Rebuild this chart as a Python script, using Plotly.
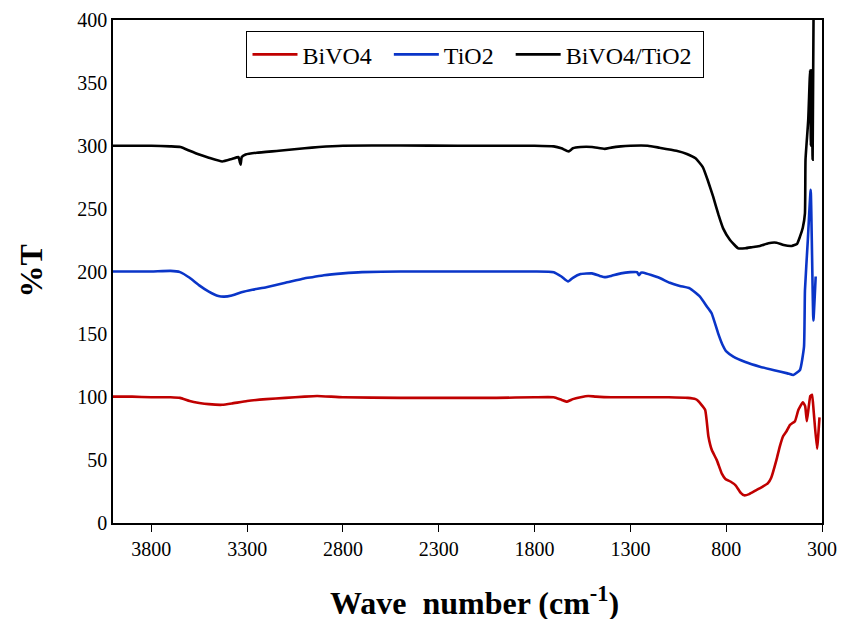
import plotly.graph_objects as go

# ---- Data ----
bivo4_wn = [4000, 3900, 3800, 3700, 3650, 3600, 3550, 3500, 3430, 3380, 3300, 3200, 3100, 3000, 2935,
            2800, 2500, 2200, 2000, 1800, 1700, 1660, 1630, 1600, 1560, 1520, 1480, 1400, 1300, 1200,
            1100, 1000, 960, 946, 910, 893, 875, 849, 822, 804, 778, 751, 724, 706, 680, 645, 609,
            583, 565, 538, 520, 503, 485, 467, 441, 423, 400, 388, 379, 361, 352, 343, 326, 313]
bivo4_val = [100.5, 100.5, 100, 100, 99.5, 97, 95.5, 94.5, 94, 95, 97, 98.5, 99.5, 100.5, 101,
             100, 99.5, 99.5, 99.5, 100, 100, 98, 96.5, 98.5, 100, 101, 100.5, 100, 100, 100,
             100, 99.5, 98.5, 97, 90, 69, 58, 50, 39, 35, 33, 30, 24, 22, 23, 26, 29,
             31.5, 36, 50, 61, 69, 73, 78, 81, 90, 96, 93, 81, 101, 102, 88, 59, 84]

tio2_wn = [4000, 3900, 3800, 3700, 3650, 3600, 3550, 3500, 3450, 3420, 3380, 3330, 3273, 3200, 3100,
           3003, 2960, 2900, 2800, 2700, 2500, 2200, 2000, 1800, 1700, 1660, 1625, 1600, 1560, 1500,
           1460, 1430, 1400, 1350, 1300, 1265, 1255, 1245, 1230, 1150, 1094, 1042, 990, 937, 900,
           876, 842, 820, 798, 763, 700, 624, 550, 480, 450, 415, 394, 389, 374, 359, 345, 333]
tio2_val = [200, 200, 200, 200.5, 199.5, 195, 189, 184, 180.5, 180, 181, 183.5, 185.5, 187.5, 191,
            194.5, 195.5, 197, 198.5, 199.5, 200, 200, 200, 200, 199.5, 196, 192, 195, 198, 198.5,
            196.5, 195.5, 196.5, 198.5, 199.5, 199.5, 197, 199, 199, 195, 191, 188.5, 186.6, 180, 172,
            166.8, 150.8, 142, 136.2, 132.3, 128, 124.3, 121.5, 119, 117.7, 121.7, 140, 185, 225, 265, 161, 196]

comp_wn = [4000, 3900, 3800, 3700, 3648, 3600, 3550, 3500, 3430, 3380, 3345, 3338, 3334, 3328, 3308,
           3250, 3134, 3000, 2925, 2800, 2500, 2200, 2000, 1800, 1700, 1660, 1622, 1600, 1560, 1500,
           1434, 1400, 1350, 1300, 1209, 1150, 1060, 1005, 960, 922, 895, 868, 840, 816, 780, 737,
           700, 660, 624, 580, 537, 500, 458, 430, 415, 400, 389, 386, 372, 362, 358, 354, 349, 343]
comp_val = [300, 300, 300, 299.5, 299, 296, 293, 290.5, 287.5, 289.5, 291, 287, 285, 291, 293,
            294.5, 296, 298, 299, 300, 300.2, 300, 300, 300, 299.5, 298, 295.5, 298, 299, 299,
            297.5, 298.5, 299.5, 300, 300, 298.5, 296, 293.5, 290, 283, 272, 259.5, 245, 234.3, 225, 218.4,
            218.5, 219.5, 220.3, 222.5, 222.9, 221, 220.3, 222, 227.7, 235, 246.3, 289, 320, 360, 300, 360, 289, 430]

series_names = ["BiVO4", "TiO2", "BiVO4/TiO2"]
series_colors = ["#C00000", "#0A35C8", "#000000"]

x_ticks = [3800, 3300, 2800, 2300, 1800, 1300, 800, 300]
y_ticks = [0, 50, 100, 150, 200, 250, 300, 350, 400]

x_title = "<b>Wave\u00a0 number (cm<sup>-1</sup>)</b>"
y_title = "<b>%T</b>"

FONT = "Liberation Serif, Times New Roman, serif"

fig = go.Figure()
for i, (name, color, xs, ys) in enumerate(zip(series_names, series_colors,
                                              [bivo4_wn, tio2_wn, comp_wn],
                                              [bivo4_val, tio2_val, comp_val])):
    pad = "\u00a0" * (1 if i == 2 else 2)
    fig.add_trace(go.Scatter(x=xs, y=ys, mode="lines", name=name + pad,
                             line=dict(color=color, width=2.6, shape="spline", smoothing=0.4)))

fig.update_layout(
    width=848, height=611,
    margin=dict(l=105, r=34, t=12, b=96),
    paper_bgcolor="white", plot_bgcolor="white",
    font=dict(family=FONT, color="black", size=20),
    showlegend=True,
    legend=dict(orientation="h", x=0.511, xanchor="center", y=0.978, yanchor="top",
                bordercolor="black", borderwidth=1.2, bgcolor="white",
                font=dict(family=FONT, size=24, color="black"),
                itemwidth=45, tracegroupgap=0),
    annotations=[
        dict(text=x_title, xref="paper", yref="paper", x=0.51, y=0, xanchor="center",
             yanchor="middle", yshift=-78, showarrow=False,
             font=dict(family=FONT, size=32, color="black")),
        dict(text=y_title, xref="paper", yref="paper", x=0, y=0.5, xanchor="center",
             yanchor="middle", xshift=-83, showarrow=False, textangle=-90,
             font=dict(family=FONT, size=32, color="black")),
    ],
)
fig.update_xaxes(range=[4000, 300], tickvals=x_ticks, ticktext=[str(v) for v in x_ticks],
                 ticks="outside", ticklen=7, tickwidth=1.3, tickcolor="black",
                 showline=True, linecolor="black", linewidth=1.5, mirror=True,
                 showgrid=False, zeroline=False, automargin=False,
                 tickfont=dict(family=FONT, size=20, color="black"))
fig.update_yaxes(range=[0, 400], tickvals=y_ticks, ticks="",
                 showline=True, linecolor="black", linewidth=1.5, mirror=True,
                 showgrid=False, zeroline=False, automargin=False,
                 tickfont=dict(family=FONT, size=20, color="black"))

fig.write_html("out.html")
